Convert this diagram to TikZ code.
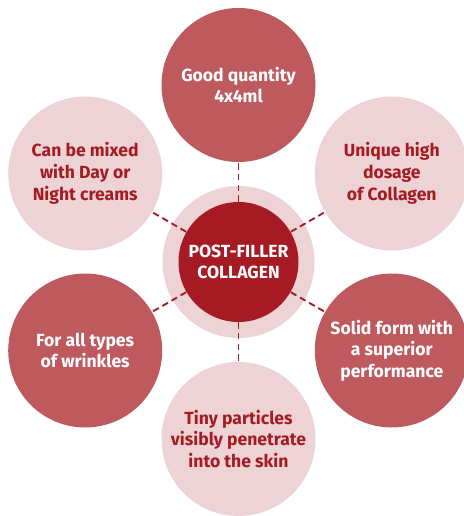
\documentclass[tikz,border=0pt]{standalone}
\usepackage{fontspec}
\setmainfont{Fira Sans}
\usepackage{tikz}
\usetikzlibrary{shapes, arrows.meta, positioning}
\usepackage{xcolor}

\definecolor{rosedark}{RGB}{190,90,94}
\definecolor{roselight}{RGB}{237,211,213}
\definecolor{wine}{RGB}{166,27,35}

\tikzset{
  petal/.style={circle, minimum size=4.62cm, inner sep=0pt, align=center,
    font=\fontsize{15}{18.5}\selectfont\bfseries},
  petaldark/.style={petal, fill=rosedark, text=white},
  petallight/.style={petal, fill=roselight, text=wine},
  link/.style={draw=wine, line width=1.6pt, dash pattern=on 5.5pt off 3.5pt}
}

\begin{document}
\begin{tikzpicture}[thick]
\useasboundingbox (-7.155cm,-7.62cm) rectangle (6.735cm,7.86cm);

%outer circles
\node[petaldark]  (quantity) at (90:5.31cm)  {Good quantity\\4x4ml};
\node[petallight] (dosage)   at (30:5.31cm)  {Unique high\\dosage\\of Collagen};
\node[petaldark]  (solid)    at (-30:5.31cm) {Solid form with\\a superior\\performance};
\node[petallight] (tiny)     at (-90:5.31cm) {Tiny particles\\visibly penetrate\\into the skin};
\node[petaldark]  (wrinkles) at (210:5.31cm) {For all types\\of wrinkles};
\node[petallight] (mixed)    at (150:5.31cm) {Can be mixed\\with Day or\\Night creams};

\node[circle, fill=roselight, minimum size=4.56cm] (ring) at (0,0) {};
\node[circle, fill=wine, text=white, minimum size=3.6cm, align=center,
  font=\fontsize{15}{18.5}\selectfont\bfseries] (core) at (0,0) {POST-FILLER\\COLLAGEN};

\foreach \n in {quantity, dosage, solid, tiny, wrinkles, mixed}
  \draw[link] (core) -- (\n);
\end{tikzpicture}
\end{document}
